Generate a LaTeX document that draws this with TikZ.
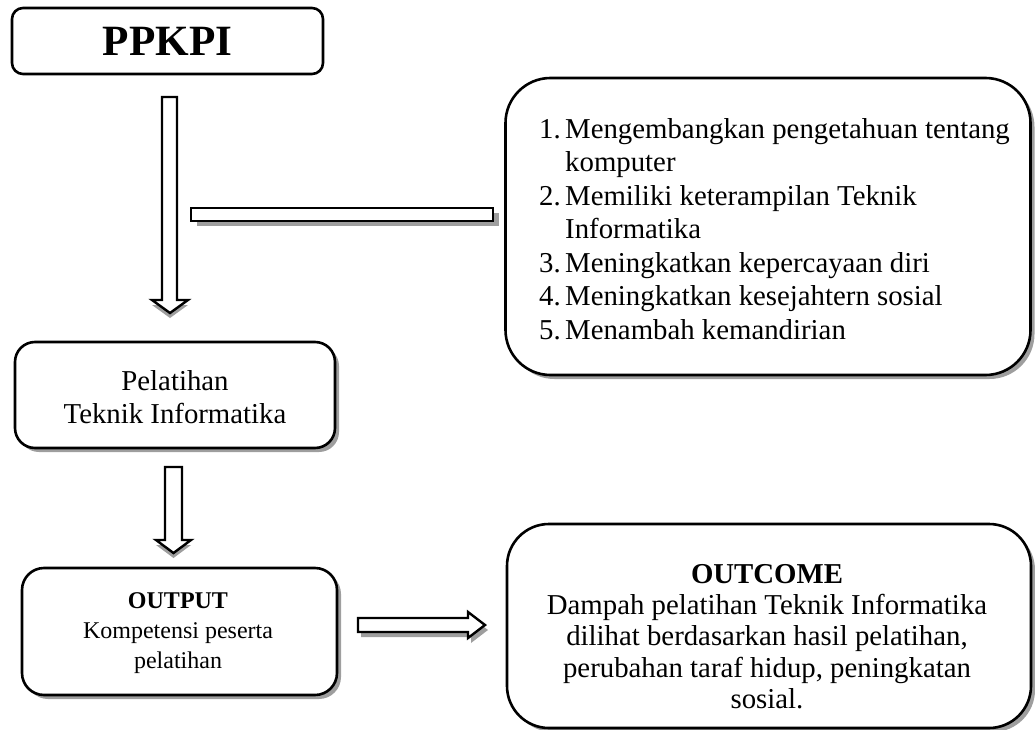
\documentclass[tikz,border=0pt]{standalone}
\usepackage{fontspec}
\setmainfont{Liberation Serif}
\usetikzlibrary{calc}
\newcommand\itm[1]{\makebox[26pt][l]{#1}}
\begin{document}
\begin{tikzpicture}[x=1pt,y=-1pt,
  box/.style={draw=black,line width=2.6pt,fill=white,rectangle,inner sep=0pt,align=center},
  shadowed/.style={preaction={fill=black!38,transform canvas={shift={(4pt,-4pt)}}}},
  barrow/.style={draw=black,line width=2.4pt,fill=white,line join=miter},
  ashadow/.style={fill=black!38},
  txt/.style={font=\fontsize{28.8}{33.5}\selectfont,inner sep=0pt},
  smalltxt/.style={font=\fontsize{24}{30}\selectfont,inner sep=0pt}]
\useasboundingbox (0,0) rectangle (1035,730);

% boxes
\node[box,rounded corners=11pt,minimum width=311pt,minimum height=66pt,
  font=\fontsize{43.2}{50}\selectfont\bfseries] (ppkpi) at (167.5,41) {PPKPI};

\node[box,shadowed,rounded corners=20pt,minimum width=320pt,minimum height=106pt] (pel) at (175,395) {};
\node[txt,align=center] (peltxt) at (175,397) {Pelatihan\\Teknik Informatika};

\node[box,shadowed,rounded corners=22pt,minimum width=315pt,minimum height=127pt] (out) at (179.5,631.5) {};
\node[smalltxt,align=center,anchor=north] (outtxt) at (178,592) {\textbf{OUTPUT}\\Kompetensi peserta\\pelatihan};

\node[box,shadowed,rounded corners=45pt,minimum width=525pt,minimum height=297pt] (list) at (768,226.5) {};
\node[txt,align=left,anchor=north west] (listtxt) at (539,118) {%
\itm{1.}Mengembangkan pengetahuan tentang\\
\itm{}komputer\\
\itm{2.}Memiliki keterampilan Teknik\\
\itm{}Informatika\\
\itm{3.}Meningkatkan kepercayaan diri\\
\itm{4.}Meningkatkan kesejahtern sosial\\
\itm{5.}Menambah kemandirian};

\node[box,shadowed,rounded corners=42pt,minimum width=524pt,minimum height=204pt] (outc) at (769,626) {};
\node[txt,font=\fontsize{28.8}{31.3}\selectfont,align=center,anchor=north] (outctxt) at (767,564) {\textbf{OUTCOME}\\Dampah pelatihan Teknik Informatika\\dilihat berdasarkan hasil pelatihan,\\perubahan taraf hidup, peningkatan\\sosial.};

% arrow 1 (PPKPI -> Pelatihan)
\fill[ashadow] (152,305) -- (170,318) -- (188,305) -- cycle;
\draw[barrow] (162,97) -- (162,300) -- (152,300) -- (170,313) -- (188,300) -- (177,300) -- (177,97) -- cycle;

% horizontal bar
\fill[ashadow] (197,213) rectangle (499,226);
\draw[barrow] (191,208) rectangle (493,221);

% arrow 2 (Pelatihan -> OUTPUT)
\fill[ashadow] (156,545) -- (173.5,558) -- (191,545) -- cycle;
\draw[barrow] (165,467) -- (165,540) -- (156,540) -- (173.5,553) -- (191,540) -- (182,540) -- (182,467) -- cycle;

% arrow 3 (OUTPUT -> OUTCOME)
\fill[ashadow] (361,623) -- (471,623) -- (471,617) -- (488,630) -- (471,643) -- (471,637) -- (361,637) -- cycle;
\draw[barrow] (358,618) -- (468,618) -- (468,612) -- (485,625) -- (468,638) -- (468,632) -- (358,632) -- cycle;
\end{tikzpicture}
\end{document}
